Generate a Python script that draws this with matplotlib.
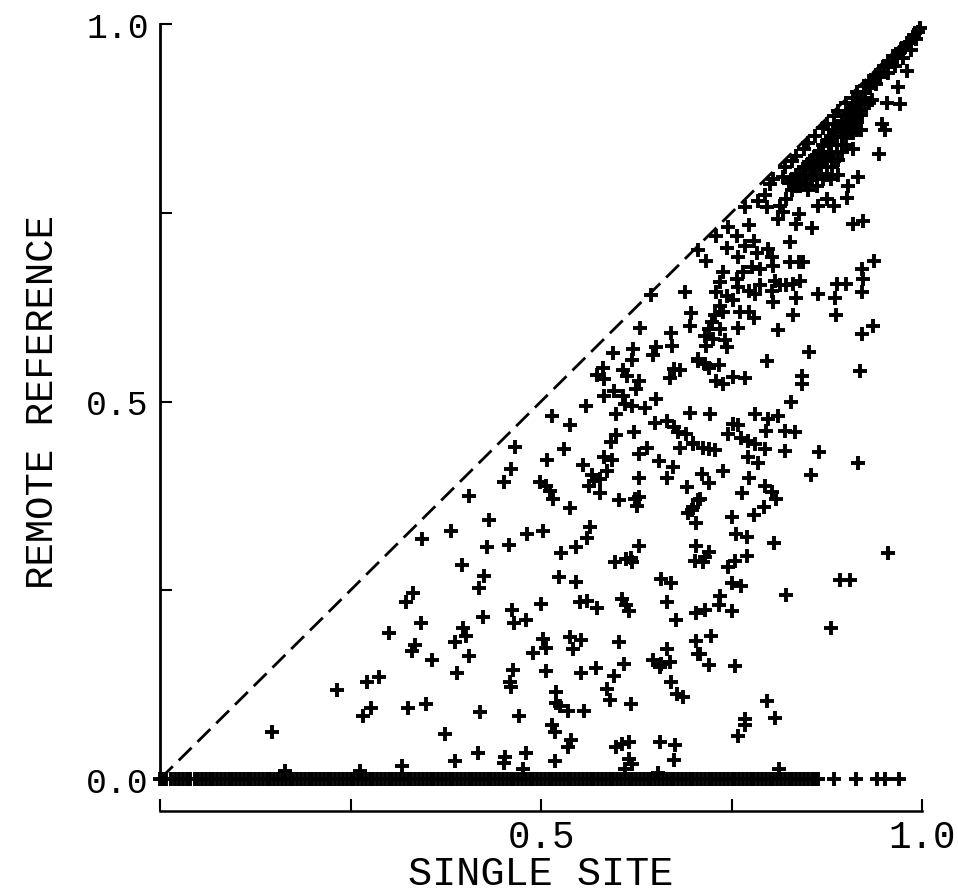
import matplotlib
matplotlib.use("Agg")
import matplotlib.pyplot as plt

# scattered coherence pairs (single site, remote reference)
cloud_x = [0.147, 0.232, 0.267, 0.277, 0.272, 0.287, 0.301, 0.323, 0.332, 0.343, 0.335, 0.331, 0.357, 0.326, 0.349, 0.374, 0.317, 0.344,
           0.406, 0.382, 0.432, 0.429, 0.396, 0.425,
           0.697, 0.696, 0.630, 0.670, 0.672, 0.651, 0.647, 0.621, 0.619, 0.595, 0.706, 0.674, 0.682, 0.669, 0.582, 0.573, 0.583, 0.607,
           0.613, 0.628, 0.625, 0.596, 0.583, 0.607, 0.610, 0.620, 0.637, 0.651, 0.559, 0.598, 0.696, 0.514, 0.538, 0.650, 0.666, 0.674,
           0.680, 0.690, 0.699, 0.683, 0.622, 0.598, 0.592, 0.466, 0.530, 0.639, 0.629, 0.508, 0.583, 0.593, 0.655, 0.673, 0.460, 0.555,
           0.587, 0.665, 0.452, 0.567, 0.570, 0.577, 0.563, 0.629, 0.499, 0.507, 0.512, 0.516, 0.577, 0.691, 0.623, 0.629, 0.626, 0.603,
           0.538, 0.698, 0.693, 0.706, 0.482, 0.503, 0.564, 0.560, 0.458, 0.546, 0.526, 0.629, 0.704, 0.618,
           0.524, 0.546, 0.597, 0.612, 0.620, 0.658, 0.670, 0.702, 0.419, 0.500, 0.462, 0.465, 0.480, 0.424, 0.551, 0.561, 0.574, 0.606,
           0.612, 0.616, 0.665, 0.677, 0.704, 0.397, 0.402, 0.387, 0.405, 0.390, 0.502, 0.507, 0.490, 0.538, 0.553, 0.542, 0.602, 0.609,
           0.572, 0.553, 0.507, 0.463, 0.459, 0.461, 0.596, 0.665, 0.647, 0.658, 0.669, 0.656, 0.704, 0.706, 0.671, 0.679, 0.686, 0.520,
           0.520, 0.525, 0.535, 0.557, 0.586, 0.590, 0.618, 0.420, 0.471, 0.515, 0.518, 0.539, 0.535, 0.599, 0.606, 0.615, 0.656, 0.676,
           0.387, 0.417, 0.453, 0.451, 0.480, 0.518, 0.615, 0.619, 0.610, 0.674,
           0.971, 0.954, 0.947, 0.951, 0.944, 0.910, 0.916, 0.903, 0.901, 0.884, 0.875, 0.884, 0.864, 0.910, 0.922, 0.855, 0.835, 0.838,
           0.827, 0.937, 0.921, 0.922, 0.921, 0.888, 0.900, 0.886, 0.887, 0.863, 0.835, 0.831, 0.805, 0.811, 0.936, 0.921, 0.852, 0.797,
           0.919, 0.842, 0.842, 0.827, 0.838, 0.844, 0.807, 0.814, 0.822, 0.831, 0.840, 0.803, 0.689, 0.717, 0.706, 0.730, 0.745, 0.773,
           0.768, 0.757, 0.744, 0.759, 0.768, 0.779, 0.783, 0.798, 0.803, 0.805, 0.739, 0.735, 0.757, 0.765, 0.777, 0.787, 0.787, 0.781,
           0.773, 0.759, 0.752, 0.744, 0.730, 0.735, 0.728, 0.739, 0.761, 0.773, 0.780, 0.759, 0.724, 0.720, 0.735, 0.715, 0.726, 0.741,
           0.717, 0.744, 0.706, 0.715, 0.720, 0.734, 0.730, 0.739, 0.752, 0.768, 0.785, 0.794, 0.805, 0.801, 0.818, 0.814, 0.822, 0.796,
           0.811, 0.818, 0.645, 0.980, 0.969,
           0.828, 0.722, 0.781, 0.798, 0.811, 0.752, 0.759, 0.746, 0.795, 0.820, 0.833, 0.763, 0.772, 0.781, 0.794, 0.820, 0.865, 0.916,
           0.700, 0.713, 0.720, 0.728, 0.772, 0.785, 0.711, 0.720, 0.739, 0.773, 0.854, 0.794, 0.803, 0.809, 0.764, 0.709, 0.700, 0.703,
           0.793, 0.780, 0.750, 0.756, 0.770, 0.806, 0.720, 0.715, 0.713, 0.770, 0.755, 0.745, 0.956, 0.750, 0.763, 0.822, 0.892, 0.906,
           0.735, 0.733, 0.715, 0.751, 0.881, 0.723, 0.709, 0.720, 0.754, 0.797, 0.807, 0.768, 0.768, 0.758, 0.812,
           0.164, 0.262, 0.476, 0.654]
cloud_y = [0.062, 0.118, 0.083, 0.094, 0.129, 0.135, 0.194, 0.234, 0.246, 0.206, 0.177, 0.169, 0.158, 0.094, 0.100, 0.060, 0.017, 0.318,
           0.375, 0.328, 0.343, 0.307, 0.284, 0.269,
           0.617, 0.600, 0.597, 0.591, 0.574, 0.572, 0.561, 0.569, 0.555, 0.564, 0.554, 0.543, 0.542, 0.531, 0.545, 0.535, 0.530, 0.542,
           0.534, 0.527, 0.517, 0.514, 0.507, 0.507, 0.497, 0.494, 0.491, 0.503, 0.494, 0.483, 0.485, 0.481, 0.469, 0.471, 0.474, 0.466,
           0.460, 0.457, 0.445, 0.438, 0.459, 0.455, 0.447, 0.440, 0.437, 0.438, 0.430, 0.423, 0.427, 0.423, 0.421, 0.413, 0.411, 0.416,
           0.408, 0.399, 0.394, 0.403, 0.395, 0.397, 0.388, 0.399, 0.394, 0.388, 0.382, 0.371, 0.379, 0.387, 0.371, 0.374, 0.362, 0.370,
           0.359, 0.356, 0.352, 0.370, 0.325, 0.328, 0.334, 0.319, 0.310, 0.307, 0.299, 0.309, 0.309, 0.293,
           0.267, 0.261, 0.288, 0.291, 0.287, 0.265, 0.260, 0.289, 0.253, 0.232, 0.224, 0.207, 0.211, 0.215, 0.235, 0.236, 0.226, 0.238,
           0.230, 0.222, 0.234, 0.211, 0.220, 0.200, 0.190, 0.182, 0.163, 0.140, 0.186, 0.173, 0.167, 0.188, 0.184, 0.172, 0.181, 0.152,
           0.147, 0.141, 0.143, 0.144, 0.128, 0.122, 0.136, 0.172, 0.157, 0.152, 0.155, 0.148, 0.183, 0.166, 0.128, 0.113, 0.109, 0.115,
           0.101, 0.097, 0.090, 0.090, 0.119, 0.104, 0.099, 0.089, 0.084, 0.071, 0.062, 0.051, 0.043, 0.042, 0.046, 0.049, 0.049, 0.045,
           0.024, 0.035, 0.029, 0.021, 0.035, 0.024, 0.026, 0.020, 0.013, 0.025,
           0.894, 0.895, 0.868, 0.859, 0.828, 0.834, 0.797, 0.785, 0.770, 0.819, 0.768, 0.759, 0.759, 0.735, 0.739, 0.730, 0.735, 0.748,
           0.711, 0.686, 0.675, 0.662, 0.645, 0.656, 0.656, 0.637, 0.615, 0.643, 0.637, 0.615, 0.632, 0.595, 0.600, 0.589, 0.565, 0.553,
           0.541, 0.534, 0.523, 0.685, 0.685, 0.685, 0.660, 0.654, 0.654, 0.656, 0.659, 0.647, 0.645, 0.686, 0.701, 0.719, 0.731, 0.734,
           0.757, 0.719, 0.703, 0.691, 0.706, 0.713, 0.697, 0.702, 0.691, 0.680, 0.671, 0.658, 0.662, 0.671, 0.678, 0.675, 0.654, 0.642,
           0.647, 0.651, 0.634, 0.640, 0.645, 0.627, 0.614, 0.618, 0.618, 0.618, 0.611, 0.598, 0.605, 0.596, 0.596, 0.587, 0.583, 0.581,
           0.574, 0.572, 0.556, 0.550, 0.545, 0.548, 0.527, 0.523, 0.533, 0.531, 0.765, 0.773, 0.795, 0.788, 0.797, 0.759, 0.768, 0.758,
           0.742, 0.751, 0.641, 0.938, 0.916,
           0.499, 0.483, 0.483, 0.477, 0.481, 0.470, 0.469, 0.457, 0.461, 0.461, 0.459, 0.451, 0.448, 0.444, 0.437, 0.435, 0.433, 0.419,
           0.444, 0.438, 0.437, 0.436, 0.426, 0.419, 0.404, 0.392, 0.408, 0.399, 0.402, 0.388, 0.380, 0.371, 0.379, 0.371, 0.360, 0.339,
           0.360, 0.350, 0.347, 0.325, 0.321, 0.313, 0.301, 0.294, 0.287, 0.296, 0.289, 0.281, 0.299, 0.259, 0.256, 0.244, 0.263, 0.263,
           0.242, 0.230, 0.224, 0.223, 0.200, 0.189, 0.166, 0.151, 0.150, 0.103, 0.081, 0.079, 0.071, 0.057, 0.013,
           0.010, 0.011, 0.013, 0.008]

# dense cluster hugging the diagonal near 1
band_x = [0.998, 0.990, 0.985, 0.978, 0.970, 0.962, 0.955, 0.985, 0.975, 0.965, 0.955,
          0.995, 0.992, 0.980, 0.972, 0.965, 0.960,
          0.945, 0.940, 0.935, 0.930, 0.925, 0.920, 0.915, 0.910, 0.905, 0.900, 0.895, 0.890, 0.885, 0.880, 0.875, 0.870, 0.865,
          0.860, 0.855, 0.850, 0.845, 0.840, 0.835, 0.830, 0.825,
          0.935, 0.930, 0.920, 0.915, 0.905, 0.900, 0.895, 0.888, 0.880, 0.875, 0.868, 0.860, 0.855, 0.848, 0.840,
          0.920, 0.910, 0.900, 0.895, 0.890, 0.882, 0.875, 0.870, 0.862, 0.850, 0.890, 0.880,
          0.950, 0.945, 0.940, 0.930, 0.925, 0.915, 0.910, 0.900, 0.890, 0.885, 0.875, 0.870, 0.860, 0.850, 0.845, 0.835, 0.830, 0.820,
          0.910, 0.905, 0.895, 0.885, 0.878, 0.870, 0.865, 0.855, 0.845,
          0.925, 0.920, 0.915, 0.905, 0.900, 0.895, 0.885, 0.880, 0.870, 0.865, 0.855, 0.840, 0.835, 0.830, 0.895, 0.905, 0.915]
band_y = [0.995, 0.985, 0.975, 0.970, 0.962, 0.957, 0.950, 0.965, 0.955, 0.945, 0.935,
          0.990, 0.980, 0.975, 0.967, 0.958, 0.950,
          0.930, 0.920, 0.925, 0.915, 0.910, 0.900, 0.895, 0.890, 0.885, 0.880, 0.870, 0.865, 0.860, 0.850, 0.845, 0.840, 0.830,
          0.825, 0.820, 0.815, 0.810, 0.800, 0.800, 0.795, 0.790,
          0.900, 0.895, 0.880, 0.875, 0.870, 0.860, 0.850, 0.840, 0.830, 0.820, 0.810, 0.800, 0.795, 0.790, 0.785,
          0.860, 0.855, 0.840, 0.830, 0.820, 0.810, 0.800, 0.795, 0.785, 0.780, 0.800, 0.795,
          0.945, 0.935, 0.932, 0.925, 0.918, 0.910, 0.902, 0.895, 0.885, 0.878, 0.868, 0.862, 0.852, 0.843, 0.835, 0.825, 0.818, 0.810,
          0.870, 0.865, 0.860, 0.850, 0.840, 0.830, 0.820, 0.810, 0.800,
          0.895, 0.885, 0.870, 0.880, 0.870, 0.862, 0.855, 0.840, 0.825, 0.815, 0.805, 0.792, 0.785, 0.780, 0.840, 0.855, 0.860]

# remote reference coherence of zero (a packed row along the axis)
zero_x = [0.000, 0.004, 0.008, 0.014, 0.020, 0.025, 0.030, 0.035, 0.040, 0.046, 0.050, 0.055, 0.060, 0.065, 0.070, 0.075,
          0.080, 0.085, 0.090, 0.095, 0.100, 0.105, 0.110, 0.115, 0.120, 0.125, 0.130, 0.135, 0.140, 0.145, 0.150, 0.155,
          0.160, 0.165, 0.170, 0.175, 0.180, 0.185, 0.190, 0.195, 0.200, 0.205, 0.210, 0.215, 0.220, 0.225, 0.230, 0.235,
          0.240, 0.245, 0.250, 0.255, 0.260, 0.265, 0.270, 0.275, 0.280, 0.285, 0.290, 0.295, 0.300, 0.305, 0.310, 0.315,
          0.320, 0.325, 0.330, 0.335, 0.340, 0.345, 0.350, 0.355, 0.360, 0.365, 0.370, 0.375, 0.380, 0.385, 0.390, 0.395,
          0.400, 0.405, 0.410, 0.415, 0.420, 0.425, 0.430, 0.435, 0.440, 0.445, 0.450, 0.455, 0.460, 0.465, 0.470, 0.475,
          0.480, 0.485, 0.490, 0.495, 0.500, 0.505, 0.510, 0.515, 0.520, 0.525, 0.530, 0.535, 0.540, 0.545, 0.550, 0.555,
          0.560, 0.565, 0.570, 0.575, 0.580, 0.585, 0.590, 0.595, 0.600, 0.605, 0.610, 0.615, 0.620, 0.625, 0.630, 0.635,
          0.640, 0.645, 0.650, 0.655, 0.660, 0.665, 0.670, 0.675, 0.680, 0.685, 0.690, 0.695, 0.700, 0.705, 0.710, 0.715,
          0.720, 0.725, 0.730, 0.735, 0.740, 0.745, 0.750, 0.755, 0.760, 0.765, 0.770, 0.775, 0.780, 0.785, 0.790, 0.795,
          0.800, 0.805, 0.810, 0.815, 0.820, 0.825, 0.830, 0.835, 0.840, 0.845, 0.850, 0.855, 0.860, 0.864,
          0.884, 0.913, 0.941, 0.951, 0.970]
zero_y = [0.0] * len(zero_x)

ticks = [0.0, 0.25, 0.5, 0.75, 1.0]
xtick_labels = ["", "", "0.5", "", "1.0"]
ytick_labels = ["0.0", "", "0.5", "", "1.0"]

plt.rcParams["font.family"] = ["Liberation Mono", "DejaVu Sans Mono"]

fig = plt.figure(figsize=(9.58, 8.95), dpi=100)
ax = fig.add_axes([160 / 958, 115 / 895, 762 / 958, 755 / 895])

ax.plot([0, 1], [0, 1], color="black", lw=2.0, dashes=(6.5, 3), zorder=1)
for xs, ys in [(cloud_x, cloud_y), (band_x, band_y), (zero_x, zero_y)]:
    ax.scatter(xs, ys, marker="+", s=90, linewidths=2.8, color="black", clip_on=False, zorder=2)

ax.set_xlim(0, 1)
ax.set_ylim(0, 1)
ax.spines["top"].set_visible(False)
ax.spines["right"].set_visible(False)
ax.spines["left"].set_linewidth(2.0)
ax.spines["bottom"].set_linewidth(1.8)
ax.spines["bottom"].set_position(("outward", 23))

ax.set_xticks(ticks)
ax.set_xticklabels(xtick_labels)
ax.set_yticks(ticks)
ax.set_yticklabels(ytick_labels)
ax.tick_params(direction="in", length=8.5, width=1.5, pad=8, colors="black")
ax.tick_params(axis="x", labelsize=27, pad=6)
ax.tick_params(axis="y", labelsize=25)

ax.set_xlabel("SINGLE SITE", fontsize=29, labelpad=-1)
ax.set_ylabel("REMOTE REFERENCE", fontsize=28, labelpad=18)

fig.savefig("out.png", dpi=100, facecolor="white")
